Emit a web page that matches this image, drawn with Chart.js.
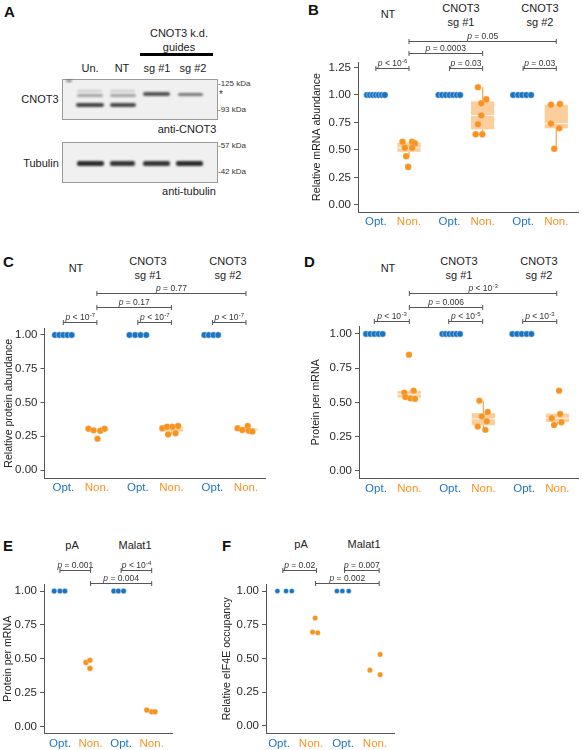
<!DOCTYPE html>
<html><head><meta charset="utf-8">
<script src="https://cdn.jsdelivr.net/npm/chart.js@4.4.1/dist/chart.umd.min.js"></script>
<style>
html,body{margin:0;padding:0;background:#fff;}
#fig{position:relative;width:582px;height:750px;overflow:hidden;font-family:"Liberation Sans",Arial,Helvetica,sans-serif;color:#222;}
.c{position:absolute;transform:translate(-50%,-50%);white-space:nowrap;font-size:11px;line-height:1;}
.l{position:absolute;transform:translate(0,-50%);white-space:nowrap;font-size:8px;line-height:1;color:#333;}
.letter{position:absolute;font-weight:bold;font-size:15px;line-height:1;transform:translate(0,-50%);color:#111;}
canvas{position:absolute;}
.blot{position:absolute;border:1px solid #9a9a9a;background:#f0f0f0;box-sizing:border-box;}
.band{position:absolute;filter:blur(0.8px);border-radius:2px;}
</style></head>
<body>
<div id="fig">
  <!-- Panel A : western blot -->
  <div class="letter" style="left:4px;top:11px">A</div>
  <div class="c" style="left:179px;top:33px">CNOT3 k.d.</div>
  <div class="c" style="left:179px;top:47px">guides</div>
  <div style="position:absolute;left:140px;top:53px;width:73px;height:2.5px;background:#000"></div>
  <div class="c" style="left:90px;top:68px">Un.</div>
  <div class="c" style="left:122px;top:68px">NT</div>
  <div class="c" style="left:157px;top:68px">sg #1</div>
  <div class="c" style="left:193px;top:68px">sg #2</div>
  <div class="blot" style="left:62px;top:79px;width:156px;height:41px"></div>
  <div class="band" style="left:77px;top:89.5px;width:25px;height:2.5px;background:rgba(0,0,0,0.16)"></div>
  <div class="band" style="left:77px;top:94px;width:26px;height:3px;background:rgba(0,0,0,0.32)"></div>
  <div class="band" style="left:76px;top:102.5px;width:28px;height:4px;background:rgba(0,0,0,0.72)"></div>
  <div class="band" style="left:110px;top:89.5px;width:25px;height:2.5px;background:rgba(0,0,0,0.16)"></div>
  <div class="band" style="left:110px;top:94px;width:26px;height:3px;background:rgba(0,0,0,0.32)"></div>
  <div class="band" style="left:110px;top:102.5px;width:26px;height:4px;background:rgba(0,0,0,0.7)"></div>
  <div class="band" style="left:143px;top:91.5px;width:27px;height:4px;background:rgba(0,0,0,0.66)"></div>
  <div class="band" style="left:178px;top:92.5px;width:25px;height:3.5px;background:rgba(0,0,0,0.5)"></div>
  <div class="band" style="left:66px;top:80px;width:6px;height:1.5px;background:rgba(0,0,0,0.5)"></div>
  <div class="c" style="left:40px;top:99px">CNOT3</div>
  <div class="l" style="left:218px;top:83.5px">-125 kDa</div>
  <div class="l" style="left:219px;top:95px;font-size:10px">*</div>
  <div class="l" style="left:218px;top:109.5px">-93 kDa</div>
  <div class="c" style="left:187px;top:128.5px">anti-CNOT3</div>
  <div class="blot" style="left:62px;top:142px;width:156px;height:41px"></div>
  <div class="band" style="left:77px;top:161px;width:27px;height:5px;background:rgba(0,0,0,0.82)"></div>
  <div class="band" style="left:110px;top:161px;width:25px;height:4.5px;background:rgba(0,0,0,0.78)"></div>
  <div class="band" style="left:143px;top:160.5px;width:27px;height:5px;background:rgba(0,0,0,0.78)"></div>
  <div class="band" style="left:176px;top:161px;width:27px;height:5px;background:rgba(0,0,0,0.82)"></div>
  <div class="c" style="left:41px;top:162.5px">Tubulin</div>
  <div class="l" style="left:218px;top:146px">-57 kDa</div>
  <div class="l" style="left:218px;top:172px">-42 kDa</div>
  <div class="c" style="left:189px;top:191px">anti-tubulin</div>

  <!-- Panel letters and group headers -->
  <div class="letter" style="left:308px;top:9px">B</div>
  <div class="c" style="left:388px;top:14px">NT</div>
  <div class="c" style="left:461px;top:7.5px">CNOT3</div>
  <div class="c" style="left:461px;top:21.5px">sg #1</div>
  <div class="c" style="left:540px;top:7.5px">CNOT3</div>
  <div class="c" style="left:540px;top:21.5px">sg #2</div>

  <div class="letter" style="left:3px;top:261px">C</div>
  <div class="c" style="left:76px;top:267.5px">NT</div>
  <div class="c" style="left:148px;top:261px">CNOT3</div>
  <div class="c" style="left:148px;top:275px">sg #1</div>
  <div class="c" style="left:228px;top:261px">CNOT3</div>
  <div class="c" style="left:228px;top:275px">sg #2</div>

  <div class="letter" style="left:304px;top:261px">D</div>
  <div class="c" style="left:388px;top:267.5px">NT</div>
  <div class="c" style="left:459px;top:261px">CNOT3</div>
  <div class="c" style="left:459px;top:275px">sg #1</div>
  <div class="c" style="left:539px;top:261px">CNOT3</div>
  <div class="c" style="left:539px;top:275px">sg #2</div>

  <div class="letter" style="left:3px;top:545px">E</div>
  <div class="c" style="left:72px;top:545px">pA</div>
  <div class="c" style="left:135px;top:545px">Malat1</div>

  <div class="letter" style="left:222px;top:545px">F</div>
  <div class="c" style="left:301px;top:544px">pA</div>
  <div class="c" style="left:364px;top:544px">Malat1</div>

  <canvas id="cB" width="291" height="235" style="left:291px;top:0px"></canvas>
  <canvas id="cC" width="291" height="250" style="left:0px;top:250px"></canvas>
  <canvas id="cD" width="291" height="250" style="left:291px;top:250px"></canvas>
  <canvas id="cE" width="200" height="220" style="left:0px;top:530px"></canvas>
  <canvas id="cF" width="200" height="220" style="left:200px;top:530px"></canvas>
</div>
<script>
// ---------- shared categories / ticks ----------
const BCD_LABELS = ['Opt.', 'Non.', 'Opt.', 'Non.', 'Opt.', 'Non.'];
const BCD_POS = [1, 2, 3.22, 4.22, 5.44, 6.44];
const EF_LABELS = ['Opt.', 'Non.', 'Opt.', 'Non.'];
const EF_POS = [1, 2, 3, 4];
const Y_TICKS = [0, 0.25, 0.5, 0.75, 1.0];
const Y_TICKS_B = [0, 0.25, 0.5, 0.75, 1.0, 1.25];

// ---------- Panel B : relative mRNA abundance ----------
const mrnaOpt = [[1,1,1,1,1,1,1],[1,1,1,1,1,1,1],[1,1,1,1,1]];
const mrnaOptJitter = [[-0.27,-0.18,-0.09,0,0.09,0.18,0.27],[-0.33,-0.22,-0.11,0,0.11,0.22,0.32],[-0.3,-0.15,-0.03,0.1,0.24]];
const mrnaNon = [[0.575,0.575,0.56,0.52,0.52,0.443,0.346],[1.07,0.96,0.924,0.814,0.734,0.642,0.642],[0.911,0.917,0.74,0.697,0.511]];
const mrnaNonJitter = [[-0.195,0.095,0.175,-0.125,0.095,-0.085,-0.025],[-0.14,0.11,-0.04,-0.04,-0.14,-0.21,-0.01],[-0.16,0.11,-0.16,0.09,-0.06]];
// [q1, median, q3, lower whisker, upper whisker]
const mrnaBox = [[0.483,0.52,0.566,0.443,0.575],[0.688,0.814,0.942,0.642,1.07],[0.697,0.74,0.911,0.511,0.917]];
const mrnaBrackets = [[1,2,1.245,'p < 10^-6'],[3.22,4.22,1.245,'p = 0.03'],[5.44,6.44,1.245,'p = 0.03'],[2,4.22,1.38,'p = 0.0003'],[2,6.44,1.495,'p = 0.05']];

// ---------- Panel C : relative protein abundance ----------
const protOpt = [[1,1,1,1,1],[1,1,1,1],[1,1,1,1]];
const protOptJitter = [[-0.25,-0.12,0,0.12,0.25],[-0.25,-0.08,0.08,0.25],[-0.24,-0.11,0.03,0.17]];
const protNon = [[0.306,0.294,0.291,0.306,0.232],[0.309,0.321,0.321,0.326,0.264,0.272],[0.309,0.296,0.326,0.29,0.285]];
const protNonJitter = [[-0.25,-0.1,0.1,0.23,0.02],[-0.27,-0.13,0.03,0.2,-0.1,0.12],[-0.25,-0.11,0.05,0.08,0.19]];
const protBox = [[0.291,0.294,0.306,0.291,0.306],[0.285,0.31,0.321,0.264,0.326],[0.29,0.296,0.309,0.285,0.326]];
const protBrackets = [[1,2,1.099,'p < 10^-7'],[3.22,4.22,1.099,'p < 10^-7'],[5.44,6.44,1.099,'p < 10^-7'],[2,4.22,1.205,'p = 0.17'],[2,6.44,1.309,'p = 0.77']];

// ---------- Panel D : protein per mRNA ----------
const ppmOpt = [[1,1,1,1,1],[1,1,1,1,1,1],[1,1,1,1,1]];
const ppmOptJitter = [[-0.3,-0.17,-0.05,0.08,0.2],[-0.23,-0.13,-0.02,0.08,0.19,0.3],[-0.35,-0.21,-0.07,0.08,0.22]];
const ppmNon = [[0.849,0.586,0.572,0.54,0.53,0.526],[0.513,0.431,0.397,0.363,0.324,0.3],[0.586,0.385,0.416,0.336,0.355]];
const ppmNonJitter = [[-0.01,0.13,-0.15,-0.12,0.03,0.17],[-0.12,0.13,-0.05,0.1,-0.17,0.06],[0.05,-0.17,0.08,-0.1,0.12]];
const ppmBox = [[0.535,0.56,0.584,0.526,0.586],[0.334,0.38,0.422,0.3,0.513],[0.358,0.385,0.418,0.336,0.418]];
const ppmBrackets = [[0.95,2,1.095,'p < 10^-3'],[3.18,4.2,1.095,'p < 10^-5'],[5.4,6.42,1.095,'p < 10^-3'],[2,4.2,1.195,'p = 0.006'],[2,6.42,1.297,'p < 10^-3']];

// ---------- Panel E : protein per mRNA (pA / Malat1) ----------
const repOpt = [[1,1,1],[1,1,1]];
const repOptJitter = [[-0.19,0,0.16],[-0.24,-0.09,0.08]];
const repNon = [[0.474,0.49,0.43],[0.123,0.11,0.11]];
const repNonJitter = [[-0.15,-0.02,-0.02],[-0.16,0,0.11]];
const repBrackets = [[1,2,1.155,'p = 0.001'],[3,4,1.155,'p < 10^-4'],[2,4,1.057,'p = 0.004']];

// ---------- Panel F : relative eIF4E occupancy ----------
const occOpt = [[1,1,1],[1,1,1]];
const occOptJitter = [[-0.05,0.22,0.4],[-0.19,-0.02,0.18]];
const occNon = [[0.80,0.696,0.69],[0.53,0.413,0.38]];
const occNonJitter = [[0.13,0.05,0.21],[0.16,-0.16,0.16]];
const occBrackets = [[1.12,2.17,1.156,'p = 0.02'],[3.05,4.13,1.156,'p = 0.007'],[2.14,4.13,1.057,'p = 0.002']];

// ---------- styling ----------
const FAM = '"Liberation Sans", Arial, Helvetica, sans-serif';
const BLUE = '#1b74c2';
const ORANGE = '#f7931e';
const BOX_FILL = 'rgba(252,196,140,0.85)';
const WHISKER = '#f8a457';
const AXIS = '#555';

function toPoints(vals, jit, pos, offset) {
  const out = [];
  vals.forEach((g, gi) => g.forEach((v, k) => out.push({ x: pos[gi * 2 + offset] + jit[gi][k], y: v })));
  return out;
}

function drawPLabel(ctx, text, cx, baseY) {
  const parts = text.split('^');
  const main = parts[0], sup = parts[1];
  const PF = 8.5, SF = 6;
  const rest = main.slice(1);
  ctx.font = 'italic ' + PF + 'px ' + FAM; const wp = ctx.measureText('p').width;
  ctx.font = PF + 'px ' + FAM; const wr = ctx.measureText(rest).width;
  let ws = 0;
  if (sup) { ctx.font = SF + 'px ' + FAM; ws = ctx.measureText(sup).width; }
  let x = cx - (wp + wr + ws) / 2;
  ctx.fillStyle = '#333'; ctx.textAlign = 'left'; ctx.textBaseline = 'alphabetic';
  ctx.font = 'italic ' + PF + 'px ' + FAM; ctx.fillText('p', x, baseY); x += wp;
  ctx.font = PF + 'px ' + FAM; ctx.fillText(rest, x, baseY); x += wr;
  if (sup) { ctx.font = SF + 'px ' + FAM; ctx.fillText(sup, x + 0.3, baseY - 3.5); }
}

const boxPlugin = {
  id: 'boxes',
  beforeDatasetsDraw(chart, args, opts) {
    if (!opts.list) return;
    const { ctx } = chart; const xs = chart.scales.x, ys = chart.scales.y;
    ctx.save();
    opts.list.forEach((b, gi) => {
      const xv = opts.pos[gi * 2 + 1];
      const cx = xs.getPixelForValue(xv);
      const hw = xs.getPixelForValue(xv + opts.width / 2) - cx;
      const yq1 = ys.getPixelForValue(b[0]), ymed = ys.getPixelForValue(b[1]), yq3 = ys.getPixelForValue(b[2]);
      const ylo = ys.getPixelForValue(b[3]), yhi = ys.getPixelForValue(b[4]);
      ctx.strokeStyle = WHISKER; ctx.lineWidth = 1.2;
      ctx.beginPath(); ctx.moveTo(cx, yq3); ctx.lineTo(cx, yhi); ctx.moveTo(cx, yq1); ctx.lineTo(cx, ylo); ctx.stroke();
      ctx.fillStyle = BOX_FILL;
      ctx.fillRect(cx - hw, yq3, 2 * hw, Math.max(yq1 - yq3, 1.2));
      ctx.strokeStyle = 'rgba(255,255,255,0.85)'; ctx.lineWidth = 1;
      ctx.beginPath(); ctx.moveTo(cx - hw, ymed); ctx.lineTo(cx + hw, ymed); ctx.stroke();
    });
    ctx.restore();
  }
};

const bracketPlugin = {
  id: 'brackets',
  afterDraw(chart, args, opts) {
    if (!opts.list) return;
    const { ctx } = chart; const xs = chart.scales.x, ys = chart.scales.y;
    ctx.save();
    opts.list.forEach(b => {
      const x1 = xs.getPixelForValue(b[0]), x2 = xs.getPixelForValue(b[1]);
      const y = Math.round(ys.getPixelForValue(b[2])) + 0.5;
      ctx.strokeStyle = '#555'; ctx.lineWidth = 1;
      ctx.beginPath();
      ctx.moveTo(x1, y); ctx.lineTo(x2, y);
      ctx.moveTo(x1, y - 2.5); ctx.lineTo(x1, y + 2.5);
      ctx.moveTo(x2, y - 2.5); ctx.lineTo(x2, y + 2.5);
      ctx.stroke();
      drawPLabel(ctx, b[3], (x1 + x2) / 2, y - 2.5);
    });
    ctx.restore();
  }
};

function makeChart(id, cfg) {
  const labels = cfg.labels, pos = cfg.pos;
  return new Chart(document.getElementById(id), {
    type: 'scatter',
    data: {
      datasets: [
        { data: toPoints(cfg.opt, cfg.optJit, pos, 0), backgroundColor: BLUE, borderColor: 'rgba(255,255,255,0.7)', borderWidth: 0.6, pointRadius: cfg.r, pointHoverRadius: cfg.r },
        { data: toPoints(cfg.non, cfg.nonJit, pos, 1), backgroundColor: ORANGE, borderColor: 'rgba(255,255,255,0.5)', borderWidth: 0.4, pointRadius: cfg.r, pointHoverRadius: cfg.r }
      ]
    },
    options: {
      responsive: false, animation: false, events: [],
      layout: { padding: { top: cfg.padTop, right: cfg.padRight, left: 0, bottom: 0 } },
      plugins: {
        legend: { display: false }, tooltip: { enabled: false },
        boxes: { list: cfg.box, pos: pos, width: 0.7 },
        brackets: { list: cfg.brackets }
      },
      scales: {
        x: {
          type: 'linear', min: cfg.xMin, max: cfg.xMax, bounds: 'data',
          afterBuildTicks: s => { s.ticks = pos.map(v => ({ value: v })); },
          afterFit: s => { s.height = cfg.xH; },
          ticks: { autoSkip: false, maxRotation: 0, padding: cfg.xPad, callback: (v, i) => labels[i],
                   color: c => (c.index % 2 ? ORANGE : BLUE), font: { size: 11.5, family: FAM } },
          grid: { display: false, drawTicks: false },
          border: { display: true, color: AXIS, width: 1 }
        },
        y: {
          min: cfg.yMin, max: cfg.yMax, bounds: 'data',
          afterBuildTicks: s => { s.ticks = cfg.yTicks.map(v => ({ value: v })); },
          afterFit: s => { s.width = cfg.yW; },
          ticks: { padding: 3, color: '#2a2a2a', font: { size: 11.5, family: FAM }, callback: v => Number(v).toFixed(2) },
          grid: { display: true, drawOnChartArea: false, drawTicks: true, tickLength: 4, color: AXIS },
          border: { display: true, color: AXIS, width: 1 },
          title: { display: true, text: cfg.title, color: '#222', font: { size: 10.6, family: FAM }, padding: { top: cfg.titlePad, bottom: 0 } }
        }
      }
    },
    plugins: [boxPlugin, bracketPlugin]
  });
}

makeChart('cB', { labels: BCD_LABELS, pos: BCD_POS, opt: mrnaOpt, optJit: mrnaOptJitter, non: mrnaNon, nonJit: mrnaNonJitter,
  box: mrnaBox, brackets: mrnaBrackets, r: 3.3, padTop: 62, padRight: 2, xH: 23, yW: 67, xPad: 3,
  xMin: 0.462, xMax: 7.098, yMin: -0.064, yMax: 1.30, yTicks: Y_TICKS_B, title: 'Relative mRNA abundance', titlePad: 19.6 });

makeChart('cC', { labels: BCD_LABELS, pos: BCD_POS, opt: protOpt, optJit: protOptJitter, non: protNon, nonJit: protNonJitter,
  box: protBox, brackets: protBrackets, r: 3.2, padTop: 78.5, padRight: 26, xH: 22, yW: 44.5, xPad: 3,
  xMin: 0.44, xMax: 7.006, yMin: -0.059, yMax: 1.048, yTicks: Y_TICKS, title: 'Relative protein abundance', titlePad: 2.6 });

makeChart('cD', { labels: BCD_LABELS, pos: BCD_POS, opt: ppmOpt, optJit: ppmOptJitter, non: ppmNon, nonJit: ppmNonJitter,
  box: ppmBox, brackets: ppmBrackets, r: 3.2, padTop: 76, padRight: 3.5, xH: 21.5, yW: 68, xPad: 3,
  xMin: 0.491, xMax: 7.063, yMin: -0.055, yMax: 1.058, yTicks: Y_TICKS, title: 'Protein per mRNA', titlePad: 18.6 });

makeChart('cE', { labels: EF_LABELS, pos: EF_POS, opt: repOpt, optJit: repOptJitter, non: repNon, nonJit: repNonJitter,
  box: null, brackets: repBrackets, r: 2.8, padTop: 54, padRight: 28, xH: 16.5, yW: 44, xPad: 3,
  xMin: 0.477, xMax: 4.664, yMin: -0.05, yMax: 1.052, yTicks: Y_TICKS, title: 'Protein per mRNA', titlePad: 1.6 });

makeChart('cF', { labels: EF_LABELS, pos: EF_POS, opt: occOpt, optJit: occOptJitter, non: occNon, nonJit: occNonJitter,
  box: null, brackets: occBrackets, r: 2.6, padTop: 54, padRight: 6, xH: 16.5, yW: 66, xPad: 3,
  xMin: 0.594, xMax: 4.594, yMin: -0.056, yMax: 1.052, yTicks: Y_TICKS, title: 'Relative eIF4E occupancy', titlePad: 20.9 });
</script>
</body></html>
